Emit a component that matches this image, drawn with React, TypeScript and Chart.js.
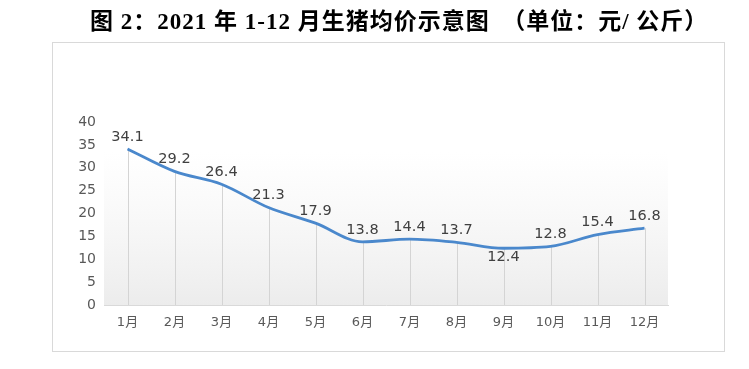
import React, { useEffect, useRef } from "react";
import { Chart, registerables } from "chart.js";

Chart.register(...registerables);

const categories = ["1月", "2月", "3月", "4月", "5月", "6月", "7月", "8月", "9月", "10月", "11月", "12月"];
const prices = [34.1, 29.2, 26.4, 21.3, 17.9, 13.8, 14.4, 13.7, 12.4, 12.8, 15.4, 16.8];
const labelBelow = [false, false, false, false, false, false, false, false, true, false, false, false];
const yTicks = [0, 5, 10, 15, 20, 25, 30, 35, 40];
const titleText = "图 2：2021 年 1-12 月生猪均价示意图　（单位：元/ 公斤）";

const decorPlugin = {
  id: "decor",
  beforeDraw(chart: any) {
    const { ctx, chartArea } = chart;
    ctx.save();
    ctx.fillStyle = "#ffffff";
    ctx.fillRect(0, 0, chart.width, chart.height);
    ctx.strokeStyle = "#d9d9d9";
    ctx.lineWidth = 1;
    ctx.strokeRect(52.5, 42.5, 672, 309);
    const g = ctx.createLinearGradient(0, chartArea.top + 30, 0, chartArea.bottom);
    g.addColorStop(0, "rgba(242,242,242,0)");
    g.addColorStop(1, "rgba(236,236,236,1)");
    ctx.fillStyle = g;
    ctx.fillRect(chartArea.left, chartArea.top + 30, chartArea.right - chartArea.left, chartArea.bottom - chartArea.top - 30);
    ctx.restore();
  },
  beforeDatasetsDraw(chart: any) {
    const { ctx } = chart;
    const meta = chart.getDatasetMeta(0);
    const yScale = chart.scales.y;
    ctx.save();
    ctx.strokeStyle = "#d4d4d4";
    ctx.lineWidth = 1;
    meta.data.forEach((pt: any) => {
      const x = Math.round(pt.x) + 0.5;
      ctx.beginPath();
      ctx.moveTo(x, pt.y);
      ctx.lineTo(x, yScale.getPixelForValue(0));
      ctx.stroke();
    });
    ctx.restore();
  },
  afterDatasetsDraw(chart: any) {
    const { ctx } = chart;
    const meta = chart.getDatasetMeta(0);
    ctx.save();
    ctx.font = "14.5px 'DejaVu Sans'";
    ctx.fillStyle = "#404040";
    ctx.textAlign = "center";
    ctx.textBaseline = "middle";
    meta.data.forEach((pt: any, i: number) => {
      const y = labelBelow[i] ? pt.y + 9 : pt.y - 12;
      ctx.fillText(prices[i].toFixed(1), pt.x, y);
    });
    ctx.restore();
  },
};

export default function App() {
  const ref = useRef<HTMLCanvasElement>(null);
  useEffect(() => {
    if (!ref.current) return;
    const chart = new Chart(ref.current, {
      type: "line",
      data: {
        labels: categories,
        datasets: [
          {
            data: prices,
            borderColor: "#4a88cc",
            borderWidth: 2.8,
            pointRadius: 0,
            tension: 0.4,
            cubicInterpolationMode: "monotone",
            fill: false,
          },
        ],
      },
      options: {
        animation: false,
        responsive: false,
        maintainAspectRatio: false,
        layout: { padding: { left: 52, right: 81, top: 122, bottom: 34 } },
        plugins: { legend: { display: false }, tooltip: { enabled: false }, title: { display: false } },
        scales: {
          x: {
            offset: true,
            grid: { display: false, drawTicks: false },
            border: { display: true, color: "#d9d9d9" },
            ticks: { color: "#595959", font: { family: "'DejaVu Sans', 'Noto Sans CJK SC'", size: 13 }, padding: 10, maxRotation: 0 },
            afterFit: (s: any) => { s.height = 30; },
          },
          y: {
            min: 0,
            max: 40,
            afterBuildTicks: (s: any) => { s.ticks = yTicks.map((v) => ({ value: v })); },
            grid: { display: false, drawTicks: false },
            border: { display: false },
            ticks: { color: "#595959", font: { family: "'DejaVu Sans'", size: 14 }, padding: 8 },
            afterFit: (s: any) => { s.width = 52; },
          },
        },
      },
      plugins: [decorPlugin],
    } as any);
    return () => chart.destroy();
  }, []);
  return (
    <div style={{ position: "fixed", left: 0, top: 0, width: 749, height: 369, background: "#fff" }}>
      <canvas ref={ref} width={749} height={369} style={{ position: "absolute", left: 0, top: 0, width: 749, height: 369 }} />
      <div
        style={{
          position: "absolute",
          left: 90,
          top: 6,
          fontFamily: "'Liberation Serif', 'Noto Sans CJK SC', serif",
          fontWeight: "bold",
          fontSize: 23,
          letterSpacing: 1,
          color: "#000",
          whiteSpace: "pre",
          lineHeight: "32px",
        }}
      >
        {titleText}
      </div>
    </div>
  );
}
